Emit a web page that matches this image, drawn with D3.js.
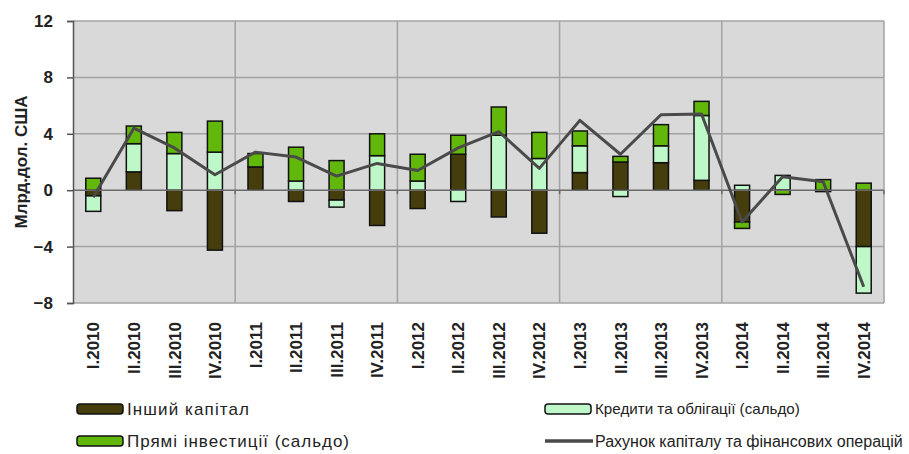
<!DOCTYPE html>
<html><head><meta charset="utf-8">
<script src="https://cdn.jsdelivr.net/npm/d3@7"></script>
<style>
html,body{margin:0;padding:0;background:#fff;}
svg{display:block;font-family:"Liberation Sans",Arial,sans-serif;}
</style></head>
<body><svg id="chart" width="909" height="454"></svg>
<script>
const quarters = ["I.2010","II.2010","III.2010","IV.2010","I.2011","II.2011","III.2011","IV.2011","I.2012","II.2012","III.2012","IV.2012","I.2013","II.2013","III.2013","IV.2013","I.2014","II.2014","III.2014","IV.2014"];
const otherCapital = [-0.4, 1.3, -1.45, -4.25, 1.65, -0.8, -0.7, -2.5, -1.3, 2.55, -1.9, -3.05, 1.25, 2.0, 1.95, 0.7, -2.25, 0, -0.1, -4.0];
const loansBonds = [-1.1, 2.0, 2.6, 2.7, 0, 0.65, -0.5, 2.45, 0.65, -0.8, 3.9, 2.25, 1.9, -0.45, 1.2, 4.6, 0.35, 1.05, 0, -3.3];
const directInvest = [0.85, 1.25, 1.5, 2.2, 0.95, 2.4, 2.1, 1.55, 1.9, 1.35, 2.0, 1.85, 1.05, 0.4, 1.5, 1.0, -0.46, -0.3, 0.75, 0.5];
const capitalAccount = [-0.5, 4.4, 3.0, 1.1, 2.7, 2.35, 1.0, 1.9, 1.4, 3.0, 4.15, 1.55, 4.95, 2.55, 5.35, 5.4, -2.25, 0.95, 0.6, -6.85];
const yTicks = [-8, -4, 0, 4, 8, 12];
const seriesNames = ["Інший капітал", "Кредити та облігації (сальдо)", "Прямі інвестиції (сальдо)"];
const lineName = "Рахунок капіталу та фінансових операцій";
const yTitle = "Млрд.дол. США";

const colors = ["#453e0c", "#bff8c8", "#62b80a"];
const keys = ["other", "loans", "fdi"];
const rows = quarters.map((q, i) => ({q, other: otherCapital[i], loans: loansBonds[i], fdi: directInvest[i]}));

const svg = d3.select("#chart");
const L = 73, R = 884, T = 21, B = 303;
const x = d3.scaleBand().domain(quarters).range([L, R]).padding(0);
const y = d3.scaleLinear().domain([-8, 12]).range([B, T]);
const cx = q => x(q) + x.bandwidth() / 2;

svg.append("rect").attr("x", L).attr("y", T).attr("width", R - L).attr("height", B - T).attr("fill", "#d9d9d9");

svg.append("g").selectAll("line").data(yTicks.filter(t => t !== 0)).join("line")
  .attr("x1", L).attr("x2", R).attr("y1", d => y(d)).attr("y2", d => y(d))
  .attr("stroke", "#a3a3a3").attr("stroke-width", 1.5);
const vIdx = [4, 8, 12, 16, 20];
svg.append("g").selectAll("line").data(vIdx).join("line")
  .attr("x1", d => L + d * x.step()).attr("x2", d => L + d * x.step())
  .attr("y1", T).attr("y2", B)
  .attr("stroke", "#a3a3a3").attr("stroke-width", 1.5);

const stack = d3.stack().keys(keys).offset(d3.stackOffsetDiverging);
const series = stack(rows);
const bw = 15;
svg.append("g").selectAll("g").data(series).join("g")
  .attr("fill", (d, i) => colors[i])
  .selectAll("rect").data(d => d.filter(p => p[1] !== p[0])).join("rect")
  .attr("x", d => cx(d.data.q) - bw / 2)
  .attr("width", bw)
  .attr("y", d => y(Math.max(d[0], d[1])))
  .attr("height", d => Math.abs(y(d[0]) - y(d[1])))
  .attr("stroke", "#111").attr("stroke-width", 1.5);

svg.append("line").attr("x1", L).attr("x2", R).attr("y1", y(0)).attr("y2", y(0))
  .attr("stroke", "#6b6b6b").attr("stroke-width", 1.5);
svg.append("g").selectAll("line").data(vIdx).join("line")
  .attr("x1", d => L + d * x.step()).attr("x2", d => L + d * x.step())
  .attr("y1", y(0)).attr("y2", y(0) + 4).attr("stroke", "#6b6b6b").attr("stroke-width", 1.5);

svg.append("path").datum(capitalAccount)
  .attr("d", d3.line().x((d, i) => cx(quarters[i])).y(d => y(d)))
  .attr("fill", "none").attr("stroke", "#4a4a4a").attr("stroke-width", 3).attr("stroke-linejoin", "round");

const yAxis = svg.append("g").attr("transform", `translate(${L},0)`)
  .call(d3.axisLeft(y).tickValues(yTicks).tickSize(6).tickPadding(14).tickFormat(d3.format("d")));
yAxis.select(".domain").attr("stroke", "#555").attr("stroke-width", 1.5);
yAxis.selectAll(".tick line").attr("stroke", "#555").attr("stroke-width", 1.5);
yAxis.selectAll("text").attr("font-size", 17).attr("font-weight", "bold").attr("fill", "#222")
  .attr("font-family", "Liberation Sans, Arial, sans-serif");

svg.append("text").attr("transform", `translate(21,${(T + B) / 2}) rotate(-90)`)
  .attr("text-anchor", "middle").attr("dy", "0.35em")
  .attr("font-size", 17).attr("font-weight", "bold").attr("fill", "#222").text(yTitle);

svg.append("g").selectAll("text").data(quarters).join("text")
  .attr("transform", d => `translate(${cx(d)},322) rotate(-90)`)
  .attr("text-anchor", "end").attr("dy", "0.36em")
  .attr("font-size", 17).attr("font-weight", "bold").attr("fill", "#222").text(d => d);

const leg = svg.append("g").attr("fill", "#222");
const legItems = [
  {name: seriesNames[0], type: "rect", color: colors[0], x: 77, y: 409, w: 122},
  {name: seriesNames[1], type: "rect", color: colors[1], x: 545, y: 409, w: 205},
  {name: seriesNames[2], type: "rect", color: colors[2], x: 77, y: 441, w: 222},
  {name: lineName, type: "line", color: "#4a4a4a", x: 545, y: 441, w: 308}
];
legItems.forEach(it => {
  if (it.type === "rect") {
    leg.append("rect").attr("x", it.x).attr("y", it.y - 5).attr("width", 46).attr("height", 10)
      .attr("rx", 3).attr("fill", it.color).attr("stroke", "#111").attr("stroke-width", 1.5);
  } else {
    leg.append("line").attr("x1", it.x).attr("x2", it.x + 48).attr("y1", it.y).attr("y2", it.y)
      .attr("stroke", it.color).attr("stroke-width", 3.5);
  }
  const t = leg.append("text").attr("x", it.x + 50).attr("y", it.y).attr("dy", "0.36em")
    .attr("font-size", 17).text(it.name);
  const natural = t.node().getComputedTextLength();
  if (natural > it.w) {
    t.attr("font-size", 17 * it.w / natural);
  } else {
    t.attr("textLength", it.w).attr("lengthAdjust", "spacing");
  }
});
</script></body></html>
